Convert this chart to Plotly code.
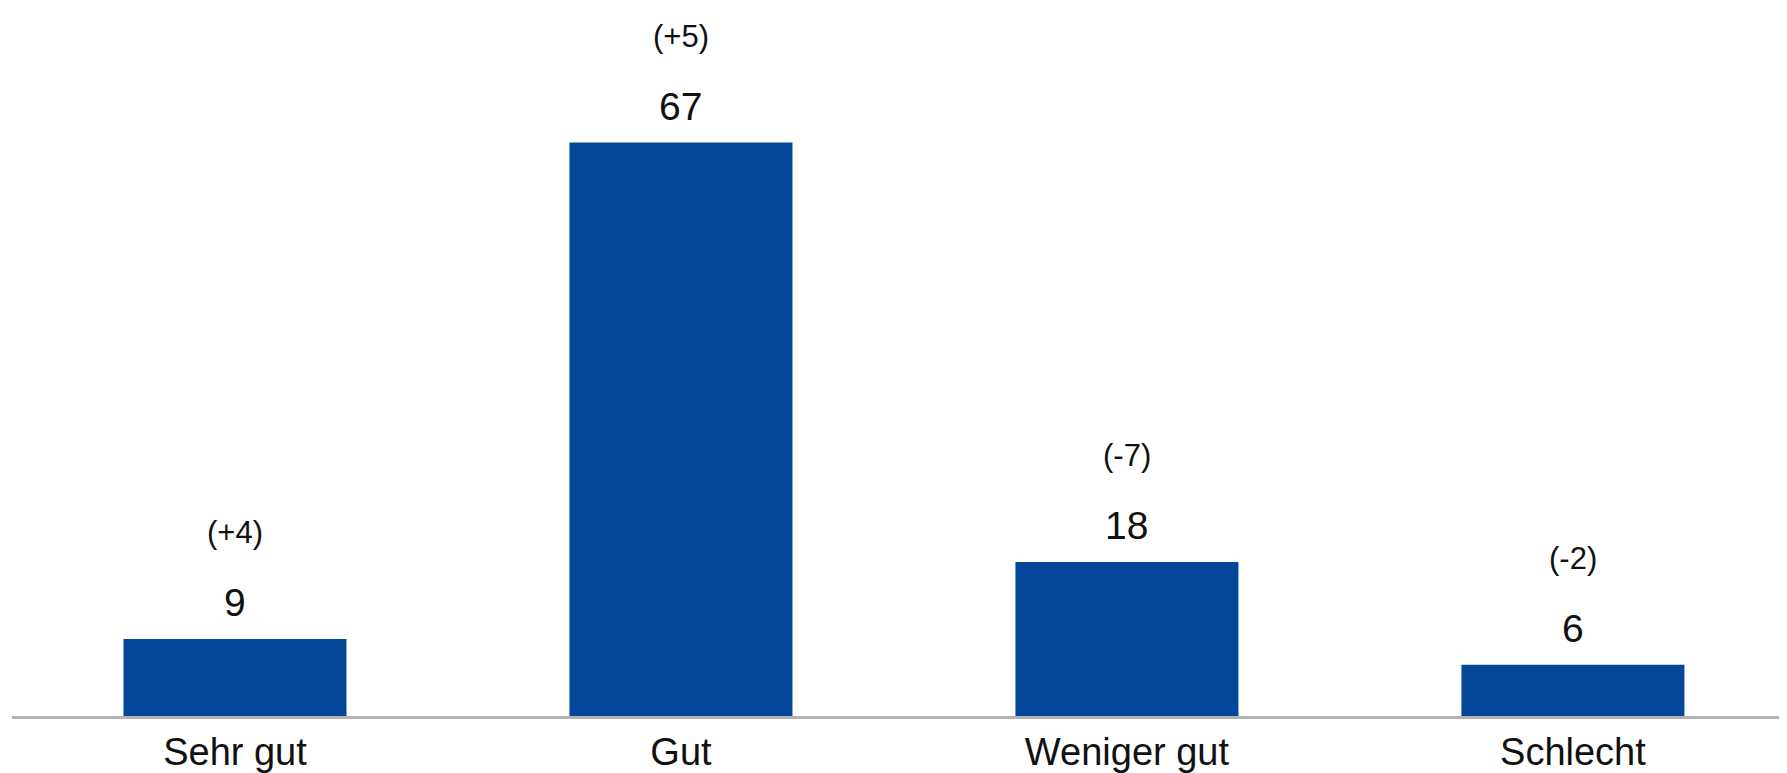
import plotly.graph_objects as go

categories = ["Sehr gut", "Gut", "Weniger gut", "Schlecht"]
values = [9, 67, 18, 6]
changes = ["(+4)", "(+5)", "(-7)", "(-2)"]

BAR_COLOR = "#03469A"
FONT = "Liberation Sans, Arial, sans-serif"

fig = go.Figure()
fig.add_trace(go.Bar(
    x=categories, y=values,
    marker=dict(color=BAR_COLOR, line=dict(width=0)),
    hoverinfo="skip",
))

annotations = []
for c, v, d in zip(categories, values, changes):
    annotations.append(dict(x=c, y=v, xref="x", yref="y", text=str(v),
                            showarrow=False, yanchor="middle", yshift=36,
                            font=dict(family=FONT, size=39, color="#111111")))
    annotations.append(dict(x=c, y=v, xref="x", yref="y", text=d,
                            showarrow=False, yanchor="middle", yshift=106,
                            font=dict(family=FONT, size=31, color="#111111")))

fig.update_layout(
    width=1779, height=765,
    margin=dict(l=4, r=0, t=0, b=57, autoexpand=False),
    paper_bgcolor="white", plot_bgcolor="white",
    bargap=0.5,
    showlegend=False,
    annotations=annotations,
    font=dict(family=FONT, color="#111111"),
)
fig.update_xaxes(
    range=[-0.5, 3.48], automargin=False,
    showline=True, linecolor="#B2B2B2", linewidth=3,
    showgrid=False, ticks="", zeroline=False,
    tickfont=dict(family=FONT, size=38, color="#111111"),
)
fig.update_yaxes(
    range=[0, 82.7], visible=False, showgrid=False, zeroline=False, automargin=False,
)

fig.write_html("out.html")
